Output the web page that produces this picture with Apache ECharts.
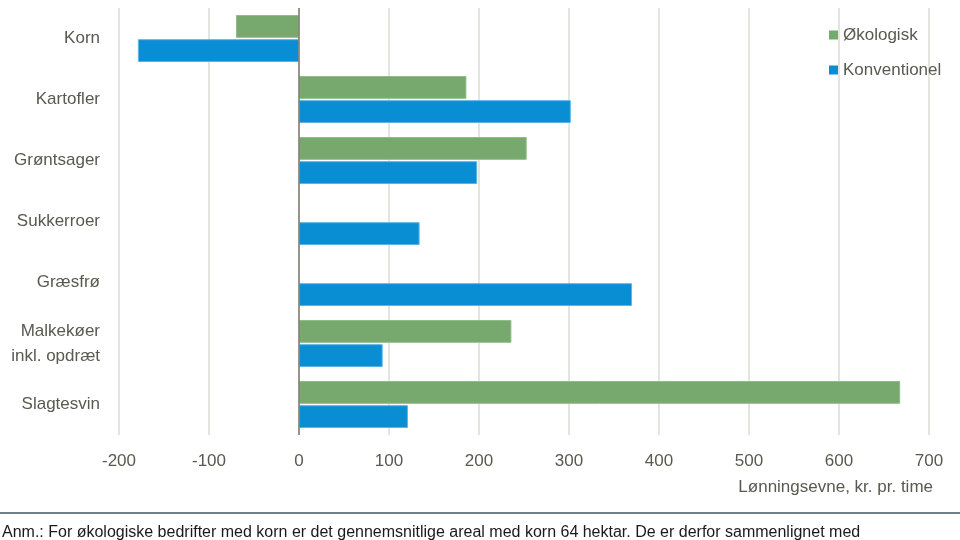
<!DOCTYPE html>
<html>
<head>
<meta charset="utf-8">
<script src="https://cdn.jsdelivr.net/npm/echarts@6/dist/echarts.min.js"></script>
<style>html,body{margin:0;padding:0;background:#fff;}#c{width:960px;height:540px;}</style>
</head>
<body>
<div id="c"></div>
<script>
const categories = ['Korn', 'Kartofler', 'Grøntsager', 'Sukkerroer', 'Græsfrø', 'Malkekøer\ninkl. opdræt', 'Slagtesvin'];
const okologisk = [-70, 186, 253, null, null, 236, 668];
const konventionel = [-179, 302, 198, 134, 370, 93, 121];
const xTicks = { min: -200, max: 700, interval: 100 };
const axisTitle = 'Lønningsevne, kr. pr. time';
const footnote = 'Anm.: For økologiske bedrifter med korn er det gennemsnitlige areal med korn 64 hektar. De er derfor sammenlignet med';

const FONT = "'Liberation Sans', Arial, sans-serif";
const TXT = '#595950';
const chart = echarts.init(document.getElementById('c'), null, { renderer: 'canvas' });
chart.setOption({
  animation: false,
  textStyle: { fontFamily: FONT },
  grid: { left: 119, right: 31, top: 8, bottom: 105 },
  legend: {
    orient: 'vertical', left: 829, top: 25, padding: 0,
    itemWidth: 9, itemHeight: 9, itemGap: 15,
    icon: 'rect',
    itemStyle: { borderWidth: 0 },
    textStyle: { fontSize: 17, color: TXT, lineHeight: 20, fontFamily: FONT },
    data: ['Økologisk', 'Konventionel']
  },
  xAxis: {
    type: 'value', min: xTicks.min, max: xTicks.max, interval: xTicks.interval,
    axisLine: { show: false }, axisTick: { show: false },
    axisLabel: { fontSize: 17, color: TXT, margin: 18, fontFamily: FONT },
    splitLine: { show: true, lineStyle: { color: '#dcdcd6', width: 1.5 } }
  },
  yAxis: {
    type: 'category', data: categories, inverse: true,
    axisLine: { show: false, onZero: false }, axisTick: { show: false },
    axisLabel: { fontSize: 17, color: TXT, margin: 19, lineHeight: 25, fontFamily: FONT, align: 'right' }
  },
  series: [
    {
      name: 'Økologisk', type: 'bar', data: okologisk.map(v => v === null ? '-' : v),
      barCategoryGap: '23%', barGap: '6%',
      itemStyle: { color: '#77a96f', borderColor: '#90bd87', borderWidth: 1 },
      markLine: {
        silent: true, symbol: ['none', 'none'], label: { show: false },
        lineStyle: { color: '#7f7a6d', width: 1.5, type: 'solid' },
        data: [{ xAxis: 0 }]
      }
    },
    {
      name: 'Konventionel', type: 'bar', data: konventionel,
      barCategoryGap: '23%', barGap: '6%',
      itemStyle: { color: '#0a8ed3', borderColor: '#5cb5e6', borderWidth: 1 }
    }
  ],
  graphic: [
    { type: 'text', right: 27, top: 479, style: { text: axisTitle, font: "17px 'Liberation Sans', Arial, sans-serif", fill: TXT } },
    { type: 'line', shape: { x1: 0, y1: 513, x2: 960, y2: 513 }, style: { stroke: '#6e8088', lineWidth: 2 } },
    { type: 'text', left: 2, top: 525, style: { text: footnote, font: "16px 'Liberation Sans', Arial, sans-serif", fill: '#1a1a1a' } }
  ]
});
</script>
</body>
</html>
